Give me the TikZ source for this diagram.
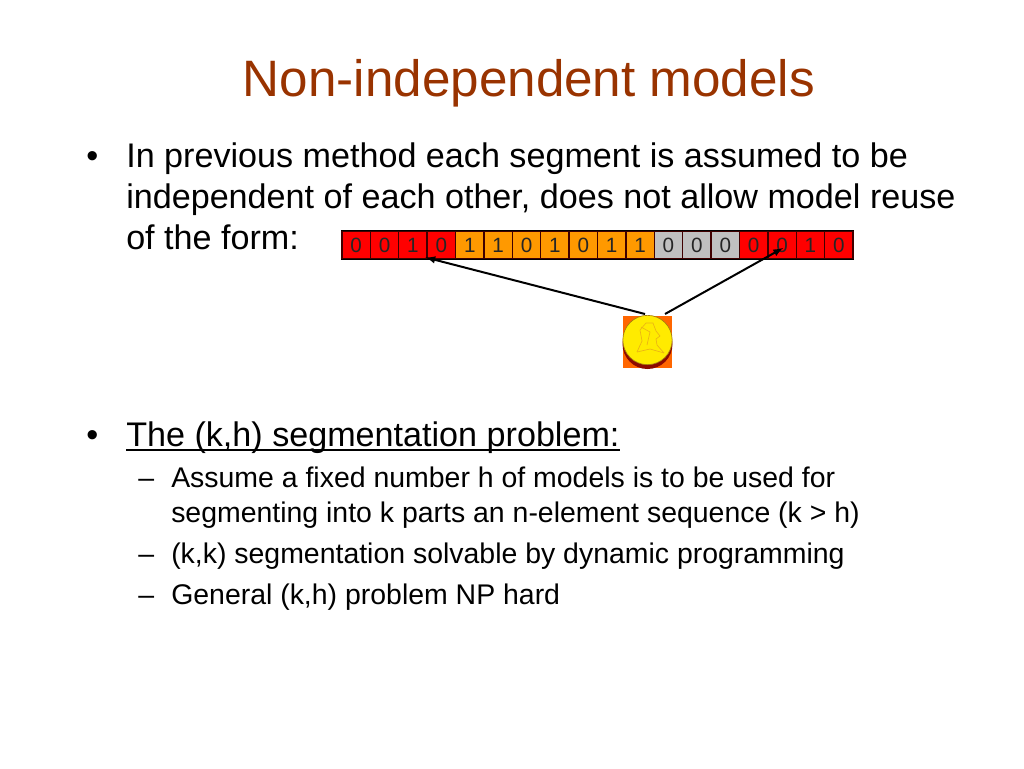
\documentclass[tikz,border=0pt]{standalone}
\usepackage{fontspec}
\setmainfont{Liberation Sans}
\usepackage{xcolor}
\usetikzlibrary{arrows,calc}
\definecolor{title-brown}{RGB}{153,51,0}
\definecolor{seg-red}{RGB}{255,0,0}
\definecolor{seg-orange}{RGB}{255,153,0}
\definecolor{seg-gray}{RGB}{192,192,192}
\definecolor{coin-back}{RGB}{255,102,0}
\definecolor{coin-shade}{RGB}{140,10,0}
\definecolor{coin-gold}{RGB}{255,235,0}
\definecolor{coin-line}{RGB}{235,180,20}
\tikzstyle{slide}=[x=.75pt, y=-.75pt]
\tikzstyle{bodytext}=[anchor=base west, inner sep=0pt, font=\fontsize{25.6}{25.6}\selectfont]
\tikzstyle{subtext}=[anchor=base west, inner sep=0pt, font=\fontsize{21.33}{21.33}\selectfont]
\tikzstyle{cell}=[draw=black!75!red, line width=1pt, minimum width=21.3pt, minimum height=20.6pt, inner sep=0pt, font=\fontsize{15.5}{15.5}\selectfont, text=black!85]
\tikzstyle{pointer}=[-latex, line width=1.5pt]

\begin{document}
\begin{tikzpicture}[slide]
	\useasboundingbox (0,0) rectangle (1024,768);
	\node[anchor=base, inner sep=0pt, text=title-brown, font=\fontsize{38.4}{38.4}\selectfont] (title) at (529,96) {Non-independent models};
	\node[bodytext] (dot1) at (86,167) {•};
	\node[bodytext] (line1) at (126,167) {In previous method each segment is assumed to be};
	\node[bodytext] (line2) at (126,208) {independent of each other, does not allow model reuse};
	\node[bodytext] (line3) at (126,249) {of the form:};
	\node[bodytext] (dot2) at (86,446) {•};
	\node[bodytext] (line4) at (126,446) {The (k,h) segmentation problem:};
	\draw[line width=1.5pt] ($(line4.base west)+(0,4)$)--($(line4.base east)+(0,4)$);
	\node[subtext] (dash1) at (138,487) {–};
	\node[subtext] (sub1) at (171,487) {Assume a fixed number h of models is to be used for};
	\node[subtext] (sub2) at (171,522) {segmenting into k parts an n-element sequence (k > h)};
	\node[subtext] (dash2) at (138,563) {–};
	\node[subtext] (sub3) at (171,563) {(k,k) segmentation solvable by dynamic programming};
	\node[subtext] (dash3) at (138,604) {–};
	\node[subtext] (sub4) at (171,604) {General (k,h) problem NP hard};
	% the bit string
	\foreach \i/\d/\c in {1/0/seg-red,2/0/seg-red,3/1/seg-red,4/0/seg-red,5/1/seg-orange,6/1/seg-orange,7/0/seg-orange,8/1/seg-orange,9/0/seg-orange,10/1/seg-orange,11/1/seg-orange,12/0/seg-gray,13/0/seg-gray,14/0/seg-gray,15/0/seg-red,16/0/seg-red,17/1/seg-red,18/0/seg-red}
		\node[cell, fill=\c] (cell\i) at (342+28.39*\i-14.2,245) {\d};
	\draw[line width=1pt] (cell1.north west)--(cell18.north east);
	\draw[line width=1pt] (cell1.south west)--(cell18.south east);
	% the coin
	\fill[coin-back] (623,316) rectangle (672,368);
	\fill[coin-shade] (647.5,344) circle (25);
	\node[circle, draw=coin-line!70!black, fill=coin-gold, line width=.5pt, minimum size=37pt, inner sep=0pt] (coin) at (647.5,340) {};
	\draw[coin-line, line width=.5pt] (637,352)--(642,341)--(640,330)--(646,323)--(653,323)--(656,331)--(660,336)--(656,339)--(657,345)--(664,353);
	\draw[coin-line, line width=.5pt] (637,352)--(650,349)--(664,353);
	\draw[coin-line, line width=.5pt] (641,327)--(650,332)--(647,345);
	\coordinate (start1) at (645,314);
	\coordinate (start2) at (665,314);
	\coordinate (end1) at ($(cell4.south west)+(-1,-2)$);
	\coordinate (end2) at ($(cell16.center)+(1,3)$);
	\draw[pointer] (start1)--(end1);
	\draw[pointer] (start2)--(end2);
\end{tikzpicture}
\end{document}
